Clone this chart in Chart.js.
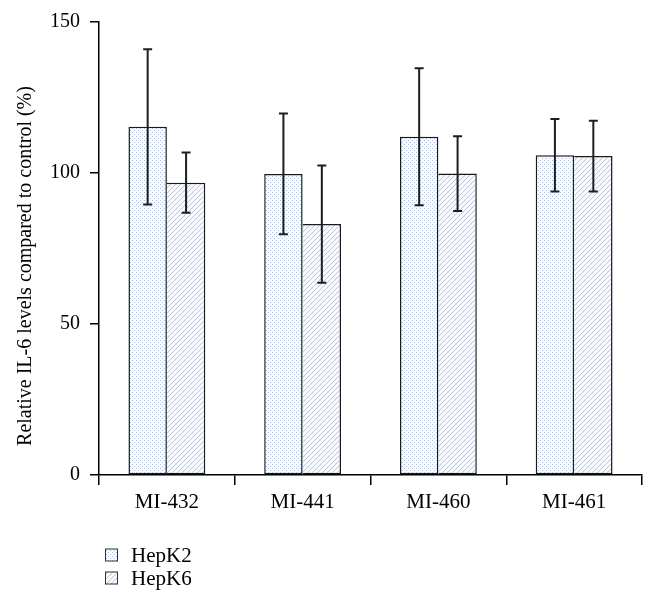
<!DOCTYPE html>
<html>
<head>
<meta charset="utf-8">
<script src="https://cdn.jsdelivr.net/npm/chart.js@4.4.1/dist/chart.umd.min.js"></script>
<style>
html, body { margin: 0; padding: 0; background: #fff; }
</style>
</head>
<body>
<canvas id="barChart" width="656" height="610"></canvas>
<script>
// values (percent of control), errors are +/- half ranges
const categories = ['MI-432', 'MI-441', 'MI-460', 'MI-461'];
const seriesNames = ['HepK2', 'HepK6'];
const hepk2Values = [115.3, 99.7, 112.0, 105.9];
const hepk2Errors = [25.7, 20.0, 22.7, 12.0];
const hepk6Values = [96.8, 83.1, 99.8, 105.6];
const hepk6Errors = [10.0, 19.4, 12.4, 11.7];
const yTicks = [0, 50, 100, 150];
const yTitle = 'Relative IL-6 levels compared to control (%)';

const FONT = 'Liberation Serif, Times New Roman, serif';
const canvas = document.getElementById('barChart');
const ctx = canvas.getContext('2d');

function dotPattern() {
    let c = document.createElement('canvas');
    c.width = 4; c.height = 4;
    let g = c.getContext('2d');
    g.fillStyle = '#f8fafd';
    g.fillRect(0, 0, 4, 4);
    g.fillStyle = '#b2c1dc';
    g.fillRect(0, 0, 1, 1);
    g.fillRect(2, 2, 1, 1);
    return ctx.createPattern(c, 'repeat');
}

function hatchPattern() {
    let c = document.createElement('canvas');
    c.width = 5; c.height = 5;
    let g = c.getContext('2d');
    g.fillStyle = '#f8fafd';
    g.fillRect(0, 0, 5, 5);
    g.strokeStyle = '#b9c6de';
    g.lineWidth = 1;
    g.beginPath();
    g.moveTo(0, 5); g.lineTo(5, 0);
    g.moveTo(-1, 1); g.lineTo(1, -1);
    g.moveTo(4, 6); g.lineTo(6, 4);
    g.stroke();
    return ctx.createPattern(c, 'repeat');
}

const fills = [dotPattern(), hatchPattern()];

const errorBars = {
    id: 'errorBars',
    afterDatasetsDraw(chart) {
        const c = chart.ctx;
        const y = chart.scales.y;
        c.save();
        c.strokeStyle = '#1e1e1e';
        c.lineWidth = 2;
        chart.data.datasets.forEach(function(ds, i) {
            chart.getDatasetMeta(i).data.forEach(function(bar, j) {
                let v = ds.data[j], e = ds.errors[j];
                let top = y.getPixelForValue(v + e);
                let bot = y.getPixelForValue(v - e);
                let x = bar.x;
                c.beginPath();
                c.moveTo(x, top); c.lineTo(x, bot);
                c.moveTo(x - 4.5, top); c.lineTo(x + 4.5, top);
                c.moveTo(x - 4.5, bot); c.lineTo(x + 4.5, bot);
                c.stroke();
            });
        });
        c.restore();
    }
};

// y title sits a bit below the axis middle in the figure, so draw it here
const sideTitle = {
    id: 'sideTitle',
    afterDraw(chart) {
        const c = chart.ctx;
        c.save();
        c.translate(26, 266);
        c.rotate(-Math.PI / 2);
        c.font = '20px ' + FONT;
        c.textAlign = 'center';
        c.textBaseline = 'middle';
        c.fillStyle = '#000';
        c.fillText(yTitle, 0, 0);
        c.restore();
    }
};

const bottomLegend = {
    id: 'bottomLegend',
    afterDraw(chart) {
        const c = chart.ctx;
        c.save();
        c.font = '21px ' + FONT;
        c.textBaseline = 'alphabetic';
        chart.data.datasets.forEach(function(ds, i) {
            let base = 562 + i * 23;
            c.fillStyle = ds.backgroundColor;
            c.fillRect(105, base - 13.5, 13, 13);
            c.strokeStyle = '#333';
            c.lineWidth = 1;
            c.strokeRect(105.5, base - 13, 12, 12);
            c.fillStyle = '#000';
            c.fillText(ds.label, 131, base);
        });
        c.restore();
    }
};

new Chart(canvas, {
    type: 'bar',
    data: {
        labels: categories,
        datasets: [
            { label: seriesNames[0], data: hepk2Values, errors: hepk2Errors,
              backgroundColor: fills[0], borderColor: '#1a1a1a', borderWidth: 1.5, borderSkipped: false },
            // left edge is shared with the HepK2 bar, so skip it to keep one divider line
            { label: seriesNames[1], data: hepk6Values, errors: hepk6Errors,
              backgroundColor: fills[1], borderColor: '#1a1a1a',
              borderWidth: { top: 1.5, right: 1.5, bottom: 1.5, left: 0 }, borderSkipped: false }
        ]
    },
    options: {
        responsive: false,
        animation: false,
        devicePixelRatio: 1,
        categoryPercentage: 0.566,
        barPercentage: 1,
        layout: { padding: { top: 21, right: 14, bottom: 90, left: 0 } },
        plugins: {
            legend: { display: false },
            tooltip: { enabled: false }
        },
        scales: {
            x: {
                offset: true,
                afterFit: function(s) { s.height = 45; },
                border: { display: true, color: '#000', width: 1.5 },
                grid: { offset: true, drawOnChartArea: false, drawTicks: true, tickLength: 10, color: '#000', lineWidth: 1.5 },
                ticks: { color: '#000', font: { family: FONT, size: 21 }, padding: 5 }
            },
            y: {
                min: 0,
                max: 150,
                afterBuildTicks: function(s) { s.ticks = yTicks.map(function(v) { return { value: v }; }); },
                afterFit: function(s) { s.width = 99; },
                border: { display: true, color: '#000', width: 1.5 },
                grid: { drawOnChartArea: false, drawTicks: true, tickLength: 9, color: '#000', lineWidth: 1.5 },
                ticks: { color: '#000', font: { family: FONT, size: 20 }, padding: 10 }
            }
        }
    },
    plugins: [errorBars, sideTitle, bottomLegend]
});
</script>
</body>
</html>
